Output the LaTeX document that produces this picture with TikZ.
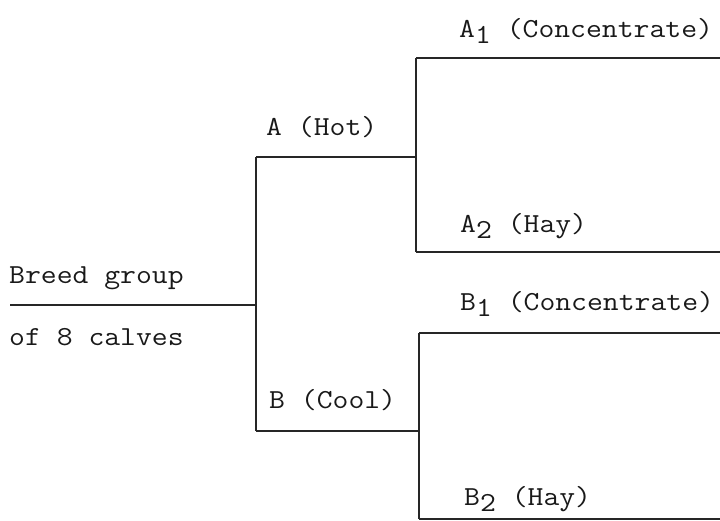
\documentclass[tikz,border=0pt]{standalone}
\usepackage{graphicx}
\newcommand{\lowsub}[1]{\raisebox{-6pt}{#1}}
\newcommand{\wide}[1]{\scalebox{1.12}[1]{#1}}
\begin{document}
\begin{tikzpicture}[x=1pt,y=-1pt,
  lbl/.style={anchor=base west,inner sep=0pt,font=\fontsize{27.5}{32}\selectfont\ttfamily,text=black!90},
  ln/.style={draw=black!85,line width=1.3pt}]
\useasboundingbox (0,0) rectangle (720,520);
% junctions
\coordinate (root) at (10,305);
\coordinate (fork) at (256,305);
\coordinate (aL) at (256,157);
\coordinate (aR) at (416,157);
\coordinate (bL) at (256,431);
\coordinate (bR) at (419,431);
\coordinate (a1L) at (416,58);
\coordinate (a1R) at (720,58);
\coordinate (a2L) at (416,252);
\coordinate (a2R) at (720,252);
\coordinate (b1L) at (419,333);
\coordinate (b1R) at (720,333);
\coordinate (b2L) at (419,519);
\coordinate (b2R) at (720,519);
% connectors
\draw[ln] (root) -- (fork);
\draw[ln] (aL) -- (bL);
\draw[ln] (aL) -- (aR);
\draw[ln] (bL) -- (bR);
\draw[ln] (a1L) -- (a2L);
\draw[ln] (a1L) -- (a1R);
\draw[ln] (a2L) -- (a2R);
\draw[ln] (b1L) -- (b2L);
\draw[ln] (b1L) -- (b1R);
\draw[ln] (b2L) -- (b2R);
% labels
\node[lbl] (t1) at (9,283) {\wide{Breed group}};
\node[lbl] (t2) at (9,345) {\wide{of 8 calves}};
\node[lbl] (ta) at (266,135) {\wide{A (Hot)}};
\node[lbl] (tb) at (269,408) {\wide{B (Cool)}};
\node[lbl] (ta1) at (459,37) {\wide{A\lowsub{1} (Concentrate)}};
\node[lbl] (ta2) at (460,232) {\wide{A\lowsub{2} (Hay)}};
\node[lbl] (tb1) at (460,310) {\wide{B\lowsub{1} (Concentrate)}};
\node[lbl] (tb2) at (464,505) {\wide{B\lowsub{2} (Hay)}};
\end{tikzpicture}
\end{document}
